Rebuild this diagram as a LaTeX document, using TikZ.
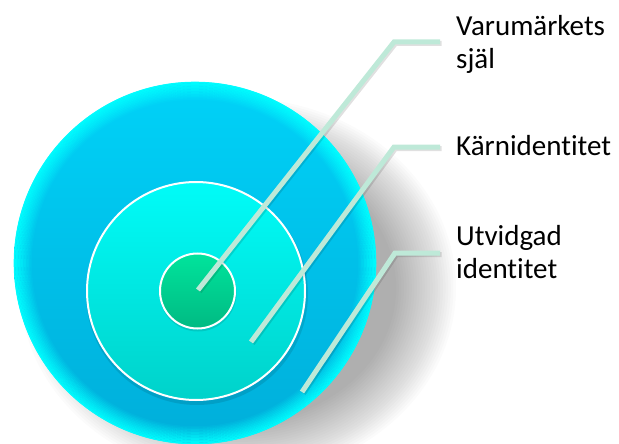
\documentclass[tikz,border=0pt]{standalone}
\usepackage{fontspec}
\setmainfont{Carlito}[Ligatures={NoCommon}]
\definecolor{bigtop}{HTML}{00D2F8}
\definecolor{bigbot}{HTML}{00AEDA}
\definecolor{rimc}{HTML}{00FFFF}
\definecolor{midtop}{HTML}{00FCF8}
\definecolor{midbot}{HTML}{00D2CA}
\definecolor{smltop}{HTML}{00E49C}
\definecolor{smlbot}{HTML}{00BA83}
\definecolor{leadc}{HTML}{BEE9D8}
\begin{document}
\begin{tikzpicture}[x=1pt,y=-1pt,
  leader/.style={draw=leadc, line width=5pt, line join=miter},
  leadshadow/.style={draw=black, opacity=0.12, line width=5pt, line join=miter},
  lbl/.style={font=\fontsize{29}{33}\selectfont, inner sep=0pt, align=left, text=black},
  disc/.style={circle, inner sep=0pt}]
\useasboundingbox (0,0) rectangle (619,444);
% soft shadow of the big disc, cast to the right
\foreach \i in {0,...,23}
  \fill[black, opacity=0.017] (238,288) ellipse[x radius={218pt-2.6pt*\i}, y radius={190pt-2.4pt*\i}];
% outer disc
\node[disc, minimum size=362pt, top color=bigtop, bottom color=bigbot] (outer) at (195,263) {};
\foreach \i in {0,...,11}
  \draw[rimc, line width=1.6pt, opacity={0.95-0.08*\i}] (outer.center) circle[radius={180.5pt-1.5pt*\i}];
% middle disc with small shadow
\fill[black, opacity=0.10] (197,294) circle[radius=111pt];
\node[disc, minimum size=218pt, draw=white, line width=2pt, top color=midtop, bottom color=midbot] (mid) at (196,291) {};
% inner disc
\fill[black, opacity=0.10] (198,293) circle[radius=38.5pt];
\node[disc, minimum size=75pt, draw=white, line width=2pt, top color=smltop, bottom color=smlbot] (core) at (197.5,291) {};
% leader points
\coordinate (s1) at (198,290); \coordinate (k1) at (394,42);  \coordinate (e1) at (440,42);
\coordinate (s2) at (251,342); \coordinate (k2) at (394,147); \coordinate (e2) at (440,147);
\coordinate (s3) at (302,392); \coordinate (k3) at (395,253); \coordinate (e3) at (440,253);
\foreach \n in {1,2,3}{
  \draw[leadshadow, transform canvas={xshift=1.5pt, yshift=-1.5pt}] (s\n) -- (k\n) -- (e\n);
  \draw[leader] (s\n) -- (k\n) -- (e\n);
}
% labels
\node[lbl, anchor=west] (l1) at (456,44) {Varumärkets\\själ};
\node[lbl, anchor=base west] (l2) at (456,155) {Kärnidentitet};
\node[lbl, anchor=west] (l3) at (456,252) {Utvidgad\\identitet};
\end{tikzpicture}
\end{document}
